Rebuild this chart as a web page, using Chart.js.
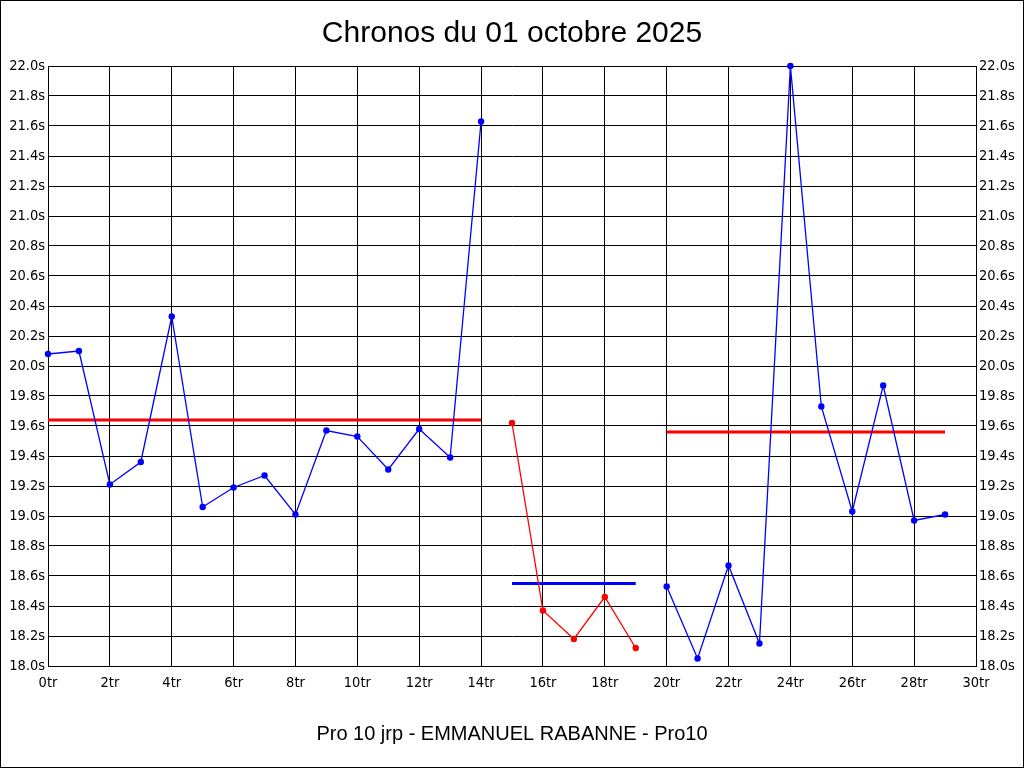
<!DOCTYPE html>
<html>
<head>
<meta charset="utf-8">
<script src="https://cdn.jsdelivr.net/npm/chart.js@4.4.0/dist/chart.umd.min.js"></script>
<style>
  body { margin: 0; background: #fff; }
  #wrap { width: 1024px; height: 768px; box-sizing: border-box; border: 1px solid #000; background: #fff; }
  canvas { display: block; }
</style>
</head>
<body>
<div id="wrap"><canvas id="chrono" width="1022" height="766"></canvas></div>
<script>
// tours (x) et chronos (secondes)
let laps = [0,1,2,3,4,5,6,7,8,9,10,11,12,13,14,15,16,17,18,19,20,21,22,23,24,25,26,27,28,29] ;
let times = [20.08, 20.10, 19.21, 19.36, 20.33, 19.06, 19.19, 19.27, 19.01, 19.57,
             19.53, 19.31, 19.58, 19.39, 21.63, 19.62, 18.37, 18.18, 18.46, 18.12,
             18.53, 18.05, 18.67, 18.15, 22.00, 19.73, 19.03, 19.87, 18.97, 19.01] ;

// séries : premier tour, dernier tour, couleur
let seriesStart = [0, 15, 20] ;
let seriesEnd = [14, 19, 29] ;
let seriesColor = ['rgb(0,0,255)', 'rgb(255,0,0)', 'rgb(0,0,255)'] ;

// moyennes par série
let averages = [19.64, 18.55, 19.56] ;
let avgColor = ['rgb(255,0,0)', 'rgb(0,0,255)', 'rgb(255,0,0)'] ;

let xTicks = [0, 30, 2] ;   // min, max, pas
let yTicks = [18, 22, 0.2] ;

let datasets = [] ;
for (let s = 0 ; s < seriesStart.length ; s++) {
    let pts = [] ;
    for (let i = seriesStart[s] ; i <= seriesEnd[s] ; i++) {
        pts.push({x : laps[i], y : times[i]}) ;
    }
    datasets.push({
        data : pts,
        borderColor : seriesColor[s],
        backgroundColor : seriesColor[s],
        borderWidth : 1.3,
        pointRadius : 3.2,
        pointBorderWidth : 0,
        tension : 0,
        clip : false
    }) ;
    datasets.push({
        data : [{x : laps[seriesStart[s]], y : averages[s]}, {x : laps[seriesEnd[s]], y : averages[s]}],
        borderColor : avgColor[s],
        borderWidth : 3,
        pointRadius : 0,
        tension : 0,
        clip : false
    }) ;
}

let tickFont = {family : "'DejaVu Sans Condensed', 'Liberation Sans Narrow', Arial", size : 14.5} ;

new Chart(document.getElementById('chrono').getContext('2d'), {
    type : 'line',
    data : { datasets : datasets },
    options : {
        responsive : false,
        animation : false,
        devicePixelRatio : 1,
        layout : { padding : 0 },
        plugins : {
            legend : { display : false },
            tooltip : { enabled : false },
            title : {
                display : true,
                text : 'Chronos du 01 octobre 2025',
                color : '#000',
                font : {family : "'Liberation Sans', Arial", size : 30, weight : 'normal'},
                padding : {top : 15, bottom : 14}
            },
            subtitle : {
                display : true,
                position : 'bottom',
                text : 'Pro 10 jrp - EMMANUEL RABANNE - Pro10',
                color : '#000',
                font : {family : "'Liberation Sans', Arial", size : 20, weight : 'normal'},
                padding : {top : 26, bottom : 21}
            }
        },
        scales : {
            x : {
                type : 'linear',
                min : xTicks[0],
                max : xTicks[1],
                ticks : {
                    stepSize : xTicks[2],
                    color : '#000',
                    font : tickFont,
                    padding : 9,
                    maxRotation : 0,
                    callback : function (v) { return v + 'tr' ; }
                },
                grid : { color : '#000', drawTicks : false },
                border : { color : '#000' },
                afterFit : function (scale) { scale.height = 30 ; }
            },
            y : {
                position : 'left',
                min : yTicks[0],
                max : yTicks[1],
                ticks : {
                    stepSize : yTicks[2],
                    color : '#000',
                    font : tickFont,
                    padding : 3,
                    callback : function (v) { return v.toFixed(1) + 's' ; }
                },
                grid : { color : '#000', drawTicks : false },
                border : { color : '#000' },
                afterFit : function (scale) { scale.width = 47 ; }
            },
            y2 : {
                position : 'right',
                min : yTicks[0],
                max : yTicks[1],
                ticks : {
                    stepSize : yTicks[2],
                    color : '#000',
                    font : tickFont,
                    padding : 3,
                    callback : function (v) { return v.toFixed(1) + 's' ; }
                },
                grid : { display : false, drawTicks : false },
                border : { color : '#000' },
                afterFit : function (scale) { scale.width = 47 ; }
            }
        }
    }
}) ;
</script>
</body>
</html>
